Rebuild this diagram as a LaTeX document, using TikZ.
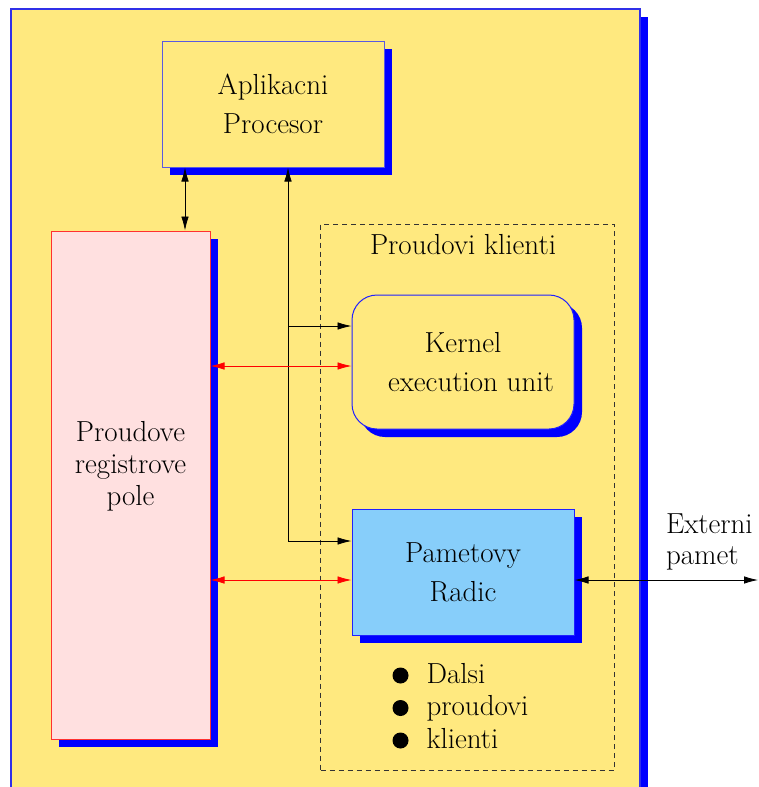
\documentclass[tikz,border=0pt]{standalone}
\usetikzlibrary{arrows.meta,shadows}

\definecolor{panel}{HTML}{FFE97F}
\definecolor{shade}{HTML}{0000FF}
\definecolor{rosefill}{HTML}{FFE0E0}
\definecolor{skyfill}{HTML}{87CEFA}
\definecolor{frameline}{HTML}{3030E8}
\definecolor{cpuline}{HTML}{5A5AE0}
\definecolor{unitline}{HTML}{2020FF}
\definecolor{poleline}{HTML}{FF3030}

\tikzset{
  txt/.style={font=\fontsize{29}{39}\selectfont, align=center},
  shadowed/.style={drop shadow={shadow xshift=8pt, shadow yshift=-8pt,
      fill=shade, opacity=1}},
  unitbox/.style={draw=cpuline, line width=1pt, fill=panel, shadowed,
      inner sep=0pt, txt},
  arr/.style={-{Latex[length=14pt,width=7.5pt]}, line width=0.8pt},
  dbl/.style={{Latex[length=14pt,width=7.5pt]}-{Latex[length=14pt,width=7.5pt]}, line width=0.8pt},
  redarr/.style={dbl, draw=red, fill=red},
  bulletdot/.style={circle, fill=black, inner sep=0pt, minimum size=16pt},
}

\begin{document}
\begin{tikzpicture}[x=1pt, y=-1pt]
  \useasboundingbox (0,0) rectangle (758,787);
  \clip (0,0) rectangle (758,787);

  % outer panel
  \node[draw=frameline, line width=1.2pt, fill=panel, shadowed,
        minimum width=629pt, minimum height=781pt, inner sep=0pt]
        (frame) at (325.5,399.5) {};

  % application processor
  \node[unitbox, minimum width=222pt, minimum height=126pt]
        (ap) at (273,104) {Aplikacni\\Procesor};

  % stream register file
  \node[draw=poleline, line width=1pt, fill=rosefill, shadowed,
        minimum width=159pt, minimum height=508pt, inner sep=0pt]
        (pole) at (130.5,485) {};
  \node[txt, font=\fontsize{29}{32}\selectfont] (polelabel) at (130.5,466.5)
        {Proudove\\registrove\\pole};

  % stream clients group
  \node[draw=black!80, line width=0.8pt, dash pattern=on 5pt off 4pt,
        minimum width=293.5pt, minimum height=546.5pt, inner sep=0pt]
        (clients) at (467.25,497.25) {};
  \node[txt, anchor=base] (clientslabel) at (463,254) {Proudovi klienti};

  % kernel execution unit
  \node[unitbox, draw=unitline, rounded corners=25pt,
        minimum width=222pt, minimum height=134pt]
        (kernel) at (463,362) {Kernel\\\hspace*{16pt}execution unit};

  % memory controller
  \node[unitbox, draw=unitline, fill=skyfill,
        minimum width=222pt, minimum height=126pt]
        (mem) at (463,572) {Pametovy\\Radic};

  % further clients
  \node[bulletdot] (b1) at (400.5,675.5) {};
  \node[bulletdot] (b2) at (400.5,708) {};
  \node[bulletdot] (b3) at (400.5,740.5) {};
  \node[txt, anchor=base west] (l1) at (423,683) {Dalsi};
  \node[txt, anchor=base west] (l2) at (423,715.5) {proudovi};
  \node[txt, anchor=base west] (l3) at (423,748) {klienti};

  % external memory
  \node[txt, anchor=base west] (ext1) at (662.5,533) {Externi};
  \node[txt, anchor=base west] (ext2) at (662.5,564) {pamet};
  \coordinate (extend) at (758,580);

  % processor <-> register file
  \draw[dbl] (ap.south -| 185,0) -- (pole.north -| 185,0);

  % control bus from the processor
  \coordinate (busk) at (288,326);
  \coordinate (busm) at (288,541);
  \draw[arr] (busm) -- (busm |- ap.south);
  \draw[arr] (busk) -- (busk -| kernel.west);
  \draw[arr] (busm) -- (busm -| mem.west);

  % data streams
  \draw[redarr] (pole.east |- 0,366) -- (kernel.west |- 0,366);
  \draw[redarr] (pole.east |- 0,580) -- (mem.west |- 0,580);

  % memory controller <-> external memory
  \draw[dbl] (mem.east |- extend) -- (extend);
\end{tikzpicture}
\end{document}
